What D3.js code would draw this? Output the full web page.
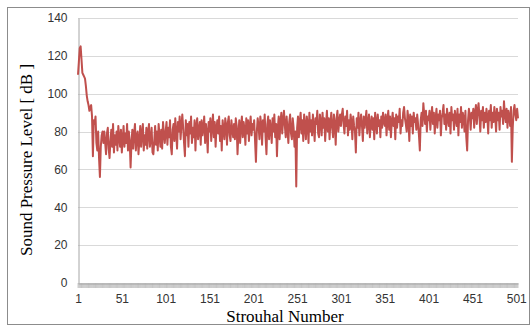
<!DOCTYPE html>
<html>
<head>
<meta charset="utf-8">
<script src="https://cdn.jsdelivr.net/npm/d3@7"></script>
<style>
  body { margin: 0; background: #fff; }
  svg { display: block; }
</style>
</head>
<body>
<svg id="chart" width="531" height="327"></svg>
<script>
// Sound pressure level per Strouhal number (1 .. 503)
const splValues = [
  110, 117, 124, 125, 118, 111, 110, 109, 108, 104, 99, 96, 94, 91, 93, 94, 88, 67, 86, 84, 88, 74, 70, 80, 66, 56, 72, 78, 80, 74,
  80, 74, 68, 79, 82, 71, 66, 75, 81, 72, 84, 69, 78, 73, 80, 70, 83, 77, 72, 81, 69, 76, 83, 72, 79, 74, 84, 70, 80, 75,
  61, 74, 81, 71, 79, 84, 70, 77, 80, 68, 75, 83, 72, 79, 84, 70, 78, 73, 82, 71, 80, 84, 72, 76, 82, 69, 68, 75, 83, 73, 80, 70, 84, 78, 72, 81, 71, 85, 79, 74,
  80, 85, 73, 82, 77, 86, 72, 68, 81, 84, 75, 87, 79, 71, 85, 80, 88, 76, 83, 89, 82, 74, 67, 86, 78, 84, 72, 85, 79, 88, 74, 82, 77, 86, 70, 83, 87, 76, 81, 85, 73, 86, 78, 82, 88, 74, 84, 79, 69, 85,
  80, 87, 75, 83, 89, 77, 85, 72, 82, 86, 79, 88, 75, 83, 70, 86, 81, 76, 87, 83, 73, 85, 88, 78, 75, 86, 81, 77, 84, 76, 87, 83, 68, 79, 86, 74, 83, 88, 77, 85, 81, 73, 87, 79, 86, 75, 83, 88, 78, 84,
  81, 86, 75, 64, 80, 87, 83, 76, 88, 84, 73, 86, 80, 89, 77, 68, 84, 88, 76, 86, 82, 74, 87, 80, 89, 77, 84, 67, 82, 88, 76, 85, 90, 79, 86, 91, 83, 77, 88, 81, 74, 85, 89, 79, 76, 87, 82, 72, 80, 51,
  82, 88, 77, 85, 90, 79, 86, 75, 89, 83, 76, 88, 84, 74, 90, 80, 86, 78, 89, 83, 75, 87, 84, 91, 79, 77, 89, 85, 78, 90, 82, 87, 75, 84, 91, 80, 87, 76, 85, 90, 82, 77, 89, 84, 73, 87, 91, 80, 85, 89,
  83, 89, 92, 84, 79, 88, 83, 91, 78, 86, 81, 89, 85, 76, 88, 83, 80, 69, 87, 82, 90, 78, 85, 89, 83, 75, 88, 82, 86, 91, 79, 85, 89, 77, 84, 88, 81, 87, 76, 90, 85, 79, 89, 83, 86, 77, 88, 82, 90, 85,
  83, 89, 78, 86, 91, 81, 88, 77, 85, 90, 83, 87, 76, 89, 82, 88, 85, 92, 79, 86, 83, 90, 93, 87, 84, 80, 91, 86, 75, 89, 83, 88, 79, 90, 85, 87, 81, 89, 84, 78, 70, 86, 90, 83, 95, 89, 84, 91, 80, 88,
  86, 91, 81, 88, 93, 84, 90, 79, 87, 92, 82, 89, 86, 91, 78, 87, 90, 94, 84, 89, 81, 92, 87, 83, 90, 79, 93, 86, 89, 81, 91, 87, 83, 92, 78, 89, 85, 93, 82, 90, 87, 80, 91, 77, 70, 86, 92, 88, 81, 90,
  87, 92, 82, 90, 94, 84, 91, 95, 88, 80, 91, 86, 93, 82, 90, 85, 92, 88, 79, 91, 86, 94, 82, 90, 85, 93, 88, 80, 92, 86, 90, 81, 93, 88, 91, 84, 96, 89, 85, 92, 82, 91, 88, 83, 93, 64, 82, 91, 94, 89, 86, 92, 87
];
const strouhal = splValues.map((v, i) => i + 1);
const xTickLabels = [1, 51, 101, 151, 201, 251, 301, 351, 401, 451, 501];
const yTickLabels = [0, 20, 40, 60, 80, 100, 120, 140];

const svg = d3.select('#chart');

// outer chart frame
svg.append('rect')
  .attr('x', 7.5).attr('y', 7.5)
  .attr('width', 522).attr('height', 317)
  .attr('fill', '#fff')
  .attr('stroke', '#8c8c8c');

const plot = { left: 78, right: 518, top: 18, bottom: 283 };

const x = d3.scaleLinear()
  .domain([1, strouhal.length])
  .range([plot.left, plot.right]);

const y = d3.scaleLinear()
  .domain([0, 140])
  .range([plot.bottom, plot.top]);

// horizontal gridlines
svg.append('g')
  .selectAll('line')
  .data(yTickLabels.filter(d => d > 0))
  .enter()
  .append('line')
  .attr('x1', plot.left).attr('x2', plot.right)
  .attr('y1', d => Math.round(y(d)) + 0.5)
  .attr('y2', d => Math.round(y(d)) + 0.5)
  .attr('stroke', '#d9d9d9');

// y axis
const yAxis = svg.append('g')
  .attr('transform', `translate(${plot.left + 0.5},0)`)
  .call(d3.axisLeft(y).tickValues(yTickLabels).tickSize(0).tickPadding(11));
yAxis.select('.domain').attr('stroke', '#a6a6a6');
yAxis.selectAll('text')
  .style('font-family', 'Liberation Sans, Arial, sans-serif')
  .style('font-size', '12px')
  .attr('fill', '#333');

// category tick marks, one per Strouhal number
svg.append('g')
  .selectAll('line')
  .data(strouhal)
  .enter()
  .append('line')
  .attr('x1', d => x(d)).attr('x2', d => x(d))
  .attr('y1', plot.bottom).attr('y2', plot.bottom + 5)
  .attr('stroke', '#999')
  .attr('stroke-width', 0.5);

// x axis
const xAxis = svg.append('g')
  .attr('transform', `translate(0,${plot.bottom + 0.5})`)
  .call(d3.axisBottom(x).tickValues(xTickLabels).tickSize(0).tickPadding(11).tickFormat(d3.format('d')));
xAxis.select('.domain').attr('stroke', '#a6a6a6');
xAxis.selectAll('text')
  .style('font-family', 'Liberation Sans, Arial, sans-serif')
  .style('font-size', '12px')
  .attr('fill', '#333');

// data line
const line = d3.line()
  .x((d, i) => x(strouhal[i]))
  .y(d => y(d));

svg.append('path')
  .datum(splValues)
  .attr('d', line)
  .attr('fill', 'none')
  .attr('stroke', '#c0504d')
  .attr('stroke-width', 2)
  .attr('stroke-linejoin', 'round');

// axis titles
svg.append('text')
  .attr('x', 285).attr('y', 322)
  .attr('text-anchor', 'middle')
  .style('font-family', 'Liberation Serif, Times New Roman, serif')
  .style('font-size', '17px')
  .text('Strouhal Number');

svg.append('text')
  .attr('transform', 'translate(32,160) rotate(-90)')
  .attr('text-anchor', 'middle')
  .style('font-family', 'Liberation Serif, Times New Roman, serif')
  .style('font-size', '17px')
  .text('Sound Pressure Level [ dB ]');
</script>
</body>
</html>
